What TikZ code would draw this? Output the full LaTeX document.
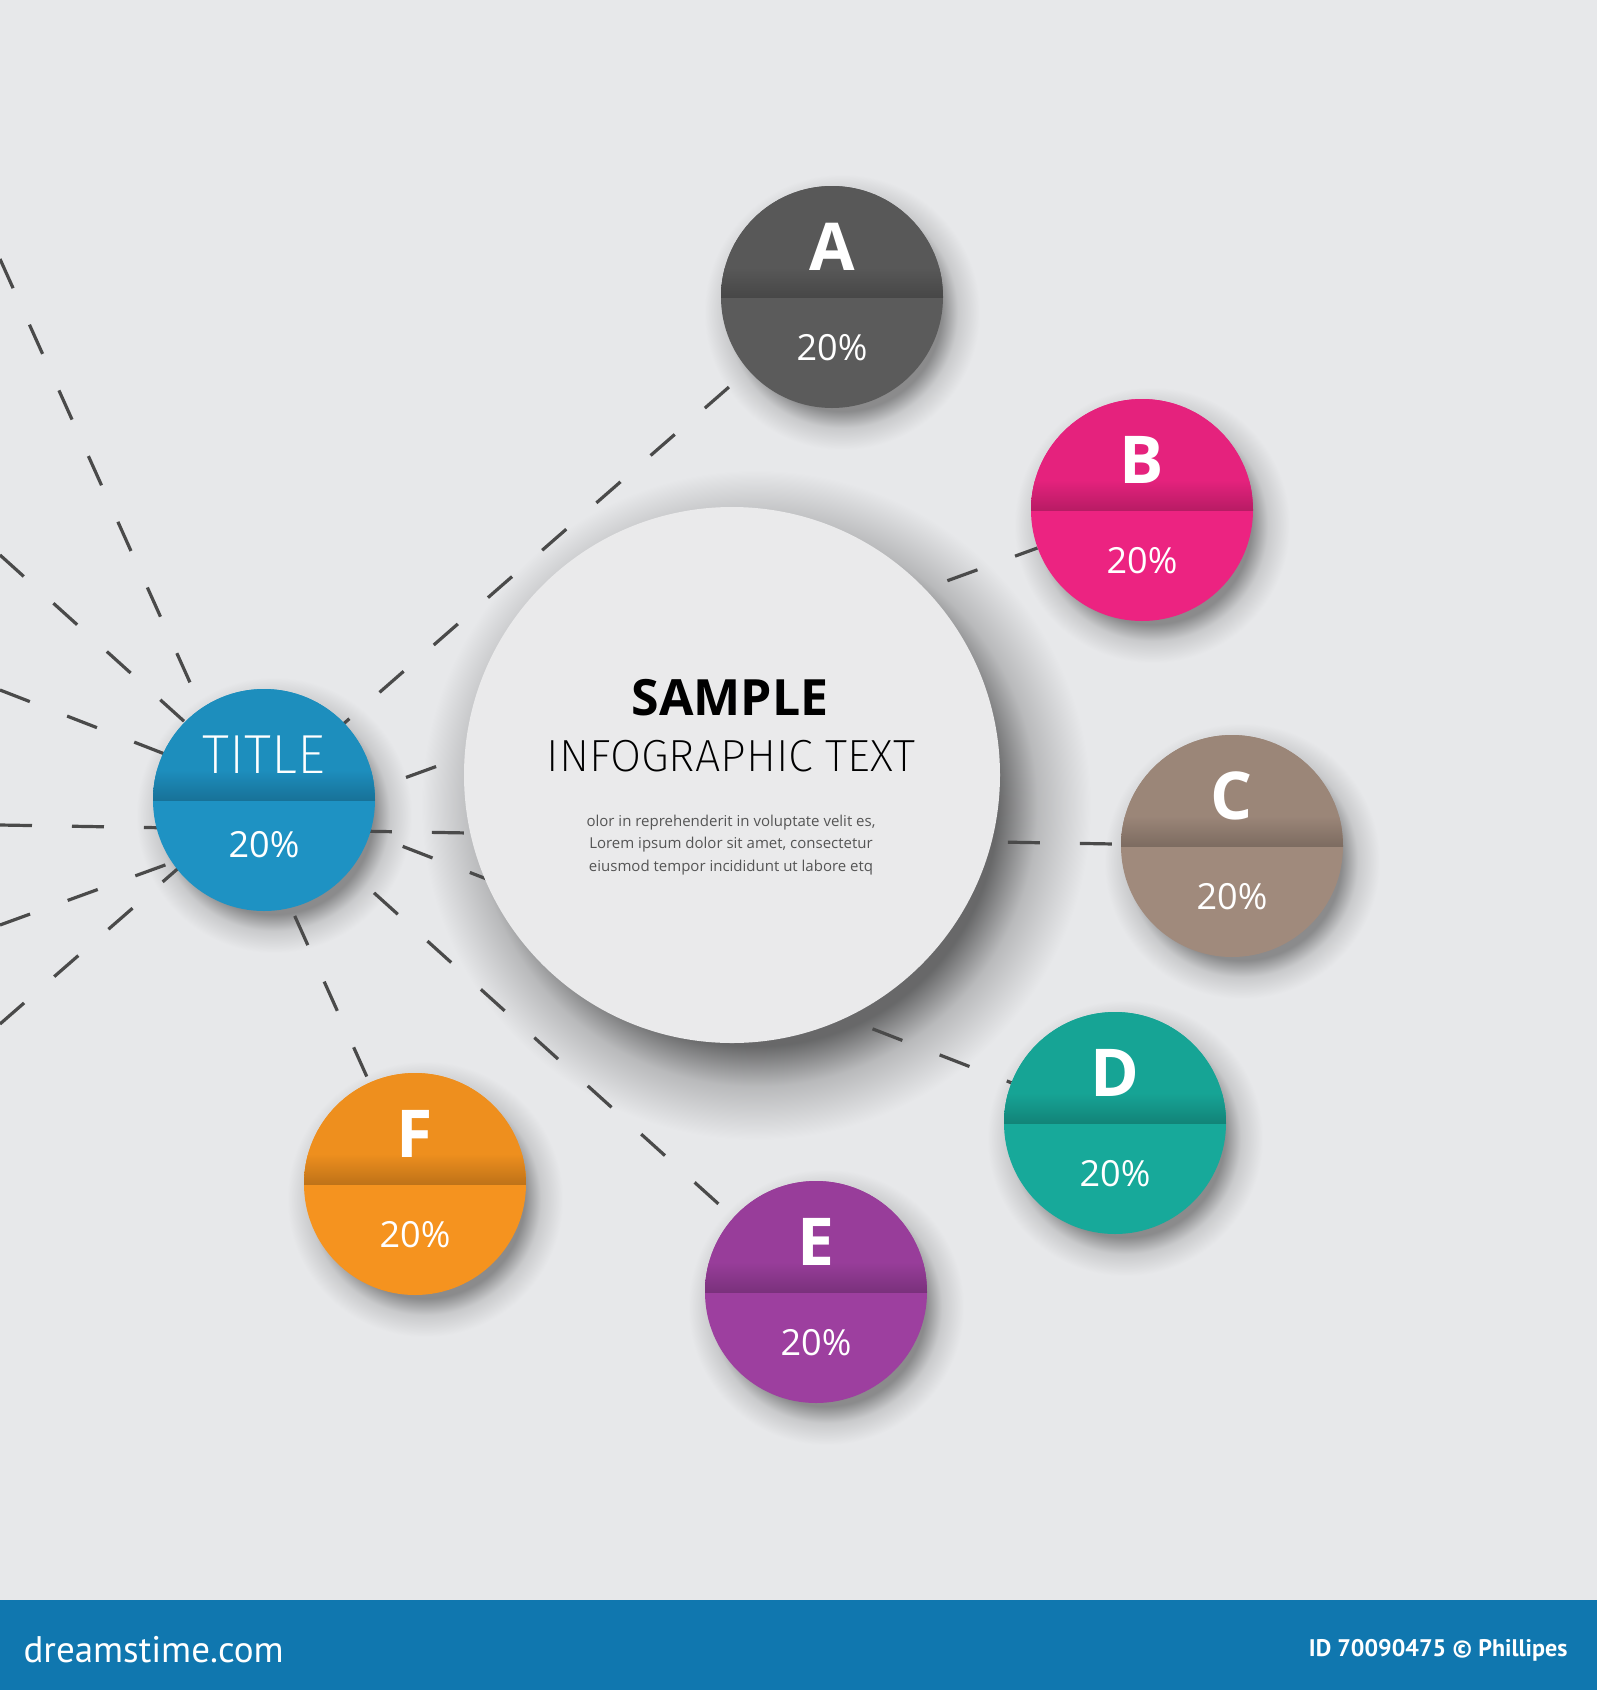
\documentclass[tikz,border=0pt]{standalone}
\usepackage{fontspec}
\setmainfont{Open Sans}
\newfontfamily\thinfont{Fira Sans ExtraLight}
\newfontfamily\barfont{PT Sans}
\usepackage{tikz}
\definecolor{pagebg}{HTML}{E7E8EA}
\definecolor{hubfill}{HTML}{EAEAEB}
\definecolor{raygray}{HTML}{4A4A4A}
\definecolor{barblue}{HTML}{1077AF}
\definecolor{bodygray}{HTML}{555555}
\definecolor{colA}{HTML}{5B5B5B}
\definecolor{colB}{HTML}{EC2381}
\definecolor{colC}{HTML}{A08A7C}
\definecolor{colD}{HTML}{17A99A}
\definecolor{colE}{HTML}{9D3F9F}
\definecolor{colF}{HTML}{F5931F}
\definecolor{colT}{HTML}{1E92C3}
\colorlet{hubcore}{black!55!pagebg}
\colorlet{hubmid}{black!20!pagebg}
\colorlet{bubcore}{black!40!pagebg}
\colorlet{bubmid}{black!13!pagebg}
\pgfdeclareradialshading{hubshade}{\pgfpoint{0bp}{0bp}}{%
  color(0bp)=(hubcore); color(18bp)=(hubcore); color(21bp)=(hubmid); color(25bp)=(pagebg); color(50bp)=(pagebg)}
\pgfdeclareradialshading{bubshade}{\pgfpoint{0bp}{0bp}}{%
  color(0bp)=(bubcore); color(18bp)=(bubcore); color(21bp)=(bubmid); color(25bp)=(pagebg); color(50bp)=(pagebg)}
\pgfdeclarelayer{bg}
\pgfdeclarelayer{shade}
\pgfdeclarelayer{rays}
\pgfsetlayers{bg,shade,rays,main}
\tikzset{
  ray/.style={raygray,line width=3.2pt,dash pattern=on 32pt off 40pt},
  bubble/.style={circle,minimum size=222pt,inner sep=0pt,fill=#1,
    path picture={
      \fill[#1!97!black] (path picture bounding box.north west) rectangle (path picture bounding box.east);
      \shade[top color=#1!97!black,bottom color=#1!78!black]
        ([yshift=30pt]path picture bounding box.west) rectangle (path picture bounding box.east);
    }},
  letter/.style={font=\bfseries\fontsize{66}{66}\selectfont,text=white},
  percent/.style={font=\fontsize{36}{36}\selectfont,text=white}
}

\begin{document}
\begin{tikzpicture}[x=1pt,y=-1pt,line cap=butt]
  \useasboundingbox (0,0) rectangle (1597,1690);
  \begin{pgfonlayer}{bg}
    \fill[pagebg] (0,0) rectangle (1597,1600);
    \fill[barblue] (0,1600) rectangle (1597,1690);
  \end{pgfonlayer}

  % ray starts on the left edge
  \coordinate (lA) at (0,1024);
  \coordinate (lB) at (0,925);
  \coordinate (lC) at (0,825);
  \coordinate (lD) at (0,690);
  \coordinate (lE) at (0,555);
  \coordinate (lF) at (0,259);

  \node[circle,minimum size=536pt,inner sep=0pt,fill=hubfill] (hub) at (732,775) {};
  \begin{pgfonlayer}{shade}
    \shade[shading=hubshade] ([xshift=24pt,yshift=-30pt]hub.center) circle (335pt);
  \end{pgfonlayer}

  \foreach \n/\x/\y/\c in {A/832/297/colA,B/1142/510/colB,C/1232/846/colC,
                           D/1115/1123/colD,E/816/1292/colE,F/415/1184/colF} {
    \node[bubble=\c] (\n) at (\x,\y) {};
    \node[letter] (\n-l) at ([yshift=50pt]\n.center) {\n};
    \node[percent] (\n-p) at ([yshift=-51pt]\n.center) {20\%};
    \begin{pgfonlayer}{shade}
      \shade[shading=bubshade] ([xshift=10pt,yshift=-15pt]\n.center) circle (138pt);
    \end{pgfonlayer}
  }
  \node[bubble=colT] (T) at (264,800) {};
  \node[text=white,font=\thinfont\fontsize{55}{55}\selectfont] (T-l) at ([yshift=45pt]T.center) {TITLE};
  \node[percent] (T-p) at ([yshift=-45pt]T.center) {20\%};
  \begin{pgfonlayer}{shade}
    \shade[shading=bubshade] ([xshift=10pt,yshift=-15pt]T.center) circle (138pt);
  \end{pgfonlayer}

  \begin{pgfonlayer}{rays}
    \foreach \n in {A,B,C,D,E,F} {\draw[ray] (l\n) -- (\n);}
  \end{pgfonlayer}

  \node[font=\bfseries\fontsize{50}{50}\selectfont] (sample) at (730,698) {SAMPLE};
  \node[font=\thinfont\fontsize{45}{45}\selectfont] (info) at (731,756) {INFOGRAPHIC TEXT};
  \node[align=center,text=bodygray,font=\fontsize{15}{22.6}\selectfont] (body) at (731,845)
    {olor in reprehenderit in voluptate velit es,\\
     Lorem ipsum dolor sit amet, consectetur\\
     eiusmod tempor incididunt ut labore etq};

  \node[anchor=west,text=white,font=\barfont\fontsize{37}{37}\selectfont] (brand) at (20,1650) {dreamstime.com};
  \node[anchor=east,text=white,font=\barfont\bfseries\fontsize{24}{24}\selectfont] (credit) at (1571,1650) {ID 70090475 © Phillipes};
\end{tikzpicture}
\end{document}
